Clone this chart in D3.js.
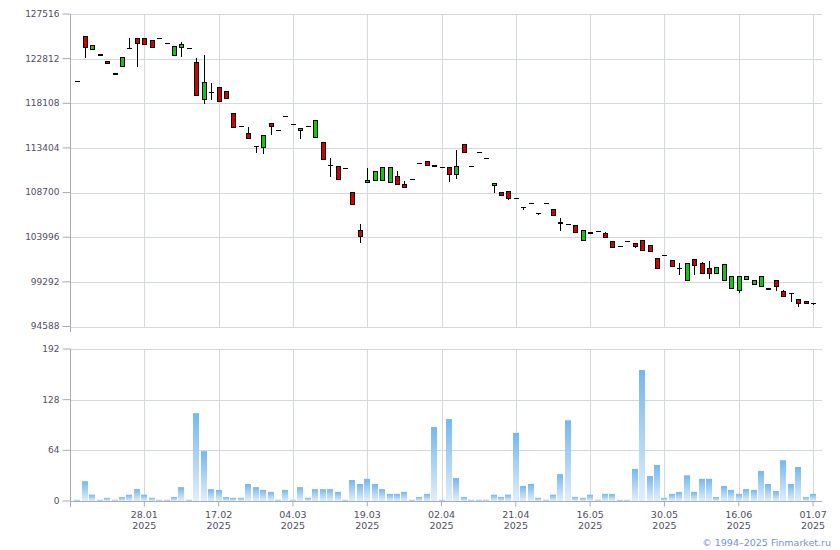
<!DOCTYPE html>
<html><head><meta charset="utf-8">
<script src="https://cdn.jsdelivr.net/npm/d3@7"></script>
<style>body{margin:0;background:#fff}svg{display:block}</style>
</head><body>
<svg id="chart" width="840" height="550"></svg>
<script>
const opens  = [120413,125194,123748,123189,122556,121184,121954,123900,124951,124951,124740,124951,124424,123115,123959,123896,122418,118471,119210,119780,119389,117036,115622,114925,113553,113405,116012,115242,116751,115875,115199,115664,114461,113975,111548,111442,111231,108698,104688,109711,109923,109965,109711,110387,109543,110070,111759,111970,111600,111337,111337,110598,113764,111474,112920,112287,109437,108698,108804,108065,107115,107537,106482,107537,106904,105490,105321,105216,103696,104450,104582,104371,103527,102999,103527,103316,103632,103105,101733,102049,101522,100741,99411,101627,101205,100677,100150,99411,98566,98355,99516,98989,98777,98620,99410,98313,98039,97405,97226,96983];
const highs  = [120413,125194,124244,123189,122556,121184,122978,124983,124951,124951,124740,124951,124424,124107,124561,123896,122841,123189,120202,119780,119389,117036,115622,115558,113553,114746,116012,115242,116751,115875,115453,115664,116297,113975,112392,111442,111231,108698,105427,111337,110946,111368,111368,111020,109965,110070,111759,111970,111600,111337,111337,113163,113764,111474,112920,112287,109680,108698,108804,108065,107115,107537,106482,107537,106904,106060,105321,105216,104688,104450,104582,104540,103527,102999,103527,103316,103632,103105,101733,102049,101522,101311,101205,101627,101416,101522,100783,101100,99833,99833,99833,99410,99833,98620,99410,98461,98039,97405,97226,96983];
const lows   = [120413,122904,123748,123189,122313,121184,121954,123790,121954,124244,123959,124951,124424,123115,123009,123896,118893,118017,118440,118260,118577,115516,115622,114355,112878,112814,114777,115242,116751,115875,114355,115664,114461,112139,110345,110028,111231,107432,103379,109711,109923,109965,109711,109500,109184,110070,111759,111506,111450,111337,109817,110134,112920,111474,112920,112287,108698,108382,107917,108065,106862,107537,106334,107537,106334,104646,105321,104477,103696,104350,104582,104012,102957,102999,103527,102820,102577,102472,100677,102049,100888,100044,99411,100044,100150,99622,100150,99411,98566,98144,99516,98989,98777,98520,98355,97722,97194,96667,96983,96878];
const closes = [120413,123959,124244,123189,122313,121184,122978,123900,124381,124318,123959,124951,124424,124107,124318,123896,118893,120339,119210,118260,118577,115516,115622,114355,113553,114746,115622,115242,116751,115875,115453,115664,116297,112139,111548,110028,111231,107432,104118,109996,110946,111368,111368,109500,109184,110070,111759,111506,111450,111337,110598,111474,112920,111474,112920,112287,109680,108382,108065,108065,107115,107537,106482,107537,106334,105490,105321,104477,104688,104350,104582,104012,102957,102999,103527,102978,102577,102472,100677,102049,100888,100741,101205,100994,100150,100150,100783,101100,99833,99833,99833,99410,99833,98520,98777,97722,98039,96983,96983,96983];
const volumes = [1.5,25,8,1.5,4,1.5,5,8,15,8,4,1.5,1.5,5,17.5,1.5,111,63,15,14,5,4,4,21.5,17.5,14,11.5,1.5,14,1.5,17.5,4,15,15,15,11.5,1.5,26.5,21.5,28,21.5,15,9,9,11.5,1.5,5,9,93.5,1.5,103.5,29,5,1.5,1.5,1.5,8,5,8,86,19,21.5,4,1.5,8,34,102,5,4,8,1.5,9,9,1.5,1.5,40.5,165.5,31.5,45.5,4,9,11.5,32.5,11.5,28,28,5,19,14,9,15,14,38,21.5,12.5,51.5,21.5,43,5,9];
const tickIndex = [9,19,29,39,49,59,69,79,89,99];
const tickDates = ["28.01","17.02","04.03","19.03","02.04","21.04","16.05","30.05","16.06","01.07"];
const tickYears = ["2025","2025","2025","2025","2025","2025","2025","2025","2025","2025"];
const priceTicks = [94588,99292,103996,108700,113404,118108,122812,127516];
const volumeTicks = [0,64,128,192];

const svg = d3.select("#chart");
const FONT = "DejaVu Sans, Verdana, sans-serif";
const GRID = "#d3d8dc", AXIS = "#a9abb9", TXT = "#505060";
const n = opens.length;
const x = d3.scaleLinear().domain([-1, n]).range([70, 820.5]);
const yP = d3.scaleLinear().domain([94588, 127516]).range([326.5, 14]);
const yV = d3.scaleLinear().domain([0, 192]).range([501, 349]);
const X0 = 70.5, X1 = 822;

const defs = svg.append("defs");
const grad = defs.append("linearGradient").attr("id","vg").attr("x1",0).attr("y1",0).attr("x2",0).attr("y2",1);
grad.append("stop").attr("offset","0%").attr("stop-color","#74b8ef");
grad.append("stop").attr("offset","100%").attr("stop-color","#e2eefa");

// horizontal grid
svg.append("g").selectAll("line").data(priceTicks).join("line")
  .attr("x1",X0).attr("x2",X1).attr("y1",d=>Math.round(yP(d))+0.5).attr("y2",d=>Math.round(yP(d))+0.5)
  .attr("stroke",GRID).attr("stroke-width",1);
svg.append("g").selectAll("line").data(volumeTicks.filter(d=>d>0)).join("line")
  .attr("x1",X0).attr("x2",X1).attr("y1",d=>Math.round(yV(d))+0.5).attr("y2",d=>Math.round(yV(d))+0.5)
  .attr("stroke",GRID).attr("stroke-width",1);
// vertical grid
const vg = svg.append("g");
tickIndex.forEach(i=>{
  const xx = Math.round(x(i))+0.5;
  vg.append("line").attr("x1",xx).attr("x2",xx).attr("y1",14).attr("y2",327).attr("stroke",GRID);
  vg.append("line").attr("x1",xx).attr("x2",xx).attr("y1",349).attr("y2",501).attr("stroke",GRID);
});

// volume bars
svg.append("g").selectAll("rect").data(volumes).join("rect")
  .attr("x",(d,i)=>Math.round(x(i))-3).attr("width",6)
  .attr("y",d=>yV(d)).attr("height",d=>yV(0)-yV(d))
  .attr("fill","url(#vg)");

// candles
const cg = svg.append("g").attr("shape-rendering","crispEdges");
d3.range(n).forEach(i=>{
  const cx = Math.round(x(i))+0.5;
  const o=opens[i], h=highs[i], l=lows[i], c=closes[i];
  const top = Math.max(o,c), bot = Math.min(o,c);
  if (h > top) cg.append("line").attr("x1",cx).attr("x2",cx).attr("y1",yP(h)).attr("y2",yP(top)).attr("stroke","#000");
  if (l < bot) cg.append("line").attr("x1",cx).attr("x2",cx).attr("y1",yP(bot)).attr("y2",yP(l)).attr("stroke","#000");
  if (o === c) {
    cg.append("line").attr("x1",cx-2.5).attr("x2",cx+2).attr("y1",yP(o)).attr("y2",yP(o)).attr("stroke","#000").attr("stroke-width",1.2);
  } else {
    const y1 = yP(top), y2 = yP(bot);
    cg.append("rect").attr("x",cx-2).attr("width",3.5)
      .attr("y",y1).attr("height",Math.max(1,y2-y1))
      .attr("fill", c>o ? "#10c810" : "#d40000").attr("stroke","#000").attr("stroke-width",1);
  }
});

// axes
function styleAxis(g){
  g.select(".domain").remove();
  g.selectAll(".tick line").attr("stroke",AXIS);
  g.selectAll(".tick text").attr("fill",TXT).attr("font-family",FONT).attr("font-size","9px");
}
svg.append("g").attr("transform","translate(70.5,0)")
  .call(d3.axisLeft(yP).tickValues(priceTicks).tickFormat(d3.format("d")).tickSize(8).tickPadding(3).offset(0))
  .call(styleAxis);
svg.append("g").attr("transform","translate(70.5,0)")
  .call(d3.axisLeft(yV).tickValues(volumeTicks).tickFormat(d3.format("d")).tickSize(8).tickPadding(3).offset(0))
  .call(styleAxis);
svg.append("line").attr("x1",70.5).attr("x2",70.5).attr("y1",14).attr("y2",332).attr("stroke",AXIS);
svg.append("line").attr("x1",70.5).attr("x2",70.5).attr("y1",349).attr("y2",507).attr("stroke",AXIS);
svg.append("line").attr("x1",70.5).attr("x2",X1).attr("y1",501.5).attr("y2",501.5).attr("stroke",AXIS);

const xa = svg.append("g").attr("transform","translate(0,501.5)")
  .call(d3.axisBottom(x).tickValues(tickIndex).tickSize(5).tickFormat("").offset(0));
xa.select(".domain").remove();
xa.selectAll(".tick line").attr("stroke",AXIS);
xa.selectAll(".tick").each(function(d,k){
  const t = d3.select(this).append("text").attr("fill",TXT).attr("font-family",FONT)
    .attr("font-size","9.5px").attr("text-anchor","middle");
  t.append("tspan").attr("x",0).attr("y",16).text(tickDates[k]);
  t.append("tspan").attr("x",0).attr("y",27.5).text(tickYears[k]);
});

svg.append("text").attr("x",831).attr("y",545.5).attr("text-anchor","end")
  .attr("font-family",FONT).attr("font-size","9.5px").attr("fill","#6f92e3")
  .text("© 1994–2025 Finmarket.ru");
</script>
</body></html>
